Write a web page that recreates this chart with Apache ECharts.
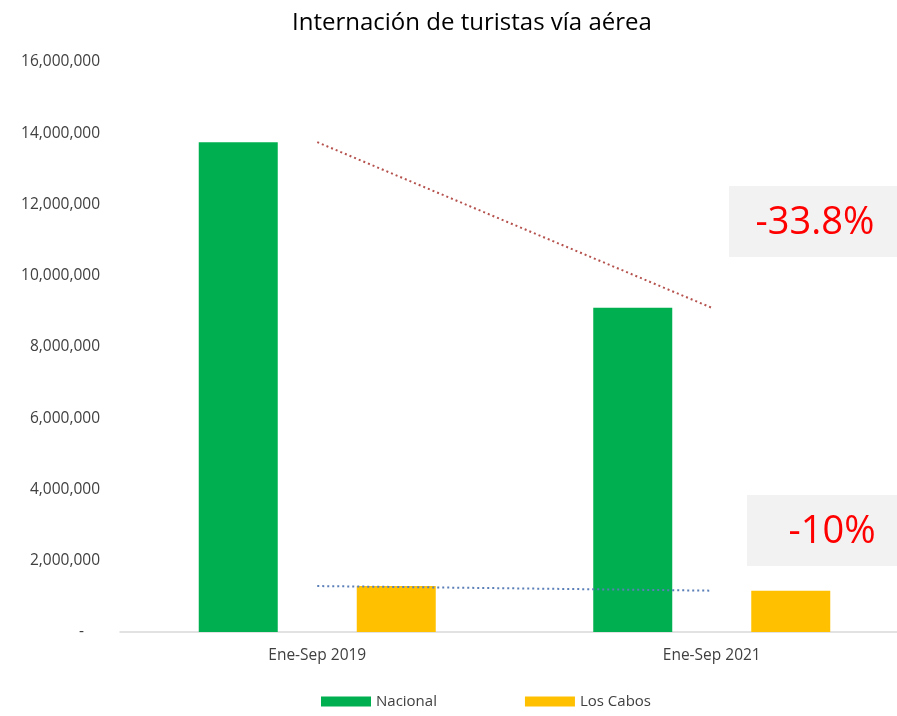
<!DOCTYPE html>
<html>
<head>
<meta charset="utf-8">
<script src="https://cdn.jsdelivr.net/npm/echarts@6/dist/echarts.min.js"></script>
<style>
  html, body { margin: 0; padding: 0; background: #fff; }
  #chart { width: 897px; height: 716px; }
</style>
</head>
<body>
<div id="chart"></div>
<script>
var categories = ['Ene-Sep 2019', 'Ene-Sep 2021'];
var nacional = [13750000, 9100000];
var losCabos = [1290000, 1160000];
var changeLabels = ['-33.8%', '-10%'];

var myChart = echarts.init(document.getElementById('chart'));

var font = '"Open Sans", "Noto Sans", sans-serif';

var option = {
    backgroundColor: '#ffffff',
    animation: false,
    title: {
        text: 'Internación de turistas vía aérea',
        left: 287,
        top: 6,
        textStyle: { fontFamily: font, fontSize: 24, fontWeight: 'normal', color: '#000' }
    },
    legend: {
        data: ['Nacional', 'Los Cabos'],
        bottom: 2,
        left: 316,
        itemWidth: 50,
        itemHeight: 10,
        itemGap: 88,
        icon: 'rect',
        textStyle: { fontFamily: font, fontSize: 15, color: '#404040' }
    },
    grid: { left: 120, top: 62, width: 789, bottom: 84, containLabel: false, outerBoundsMode: 'none' },
    xAxis: {
        type: 'category',
        data: categories,
        axisTick: { show: false },
        axisLine: { lineStyle: { color: '#d9d9d9', width: 1.5 } },
        axisLabel: { fontFamily: font, fontSize: 15.5, color: '#404040', margin: 16 }
    },
    yAxis: {
        type: 'value',
        min: 0,
        max: 16000000,
        interval: 2000000,
        splitLine: { show: false },
        axisLine: { show: false },
        axisTick: { show: false },
        axisLabel: {
            fontFamily: font, fontSize: 15.5, color: '#404040', margin: 20,
            formatter: function (v) {
                return v === 0 ? '-    ' : v.toLocaleString('en-US');
            }
        }
    },
    series: [
        {
            name: 'Nacional', type: 'bar', data: nacional,
            barWidth: 79, barGap: '100%',
            itemStyle: { color: '#00b050' }
        },
        {
            name: 'Los Cabos', type: 'bar', data: losCabos,
            barWidth: 79,
            itemStyle: { color: '#ffc000' }
        },
        {
            name: 'Tendencia Nacional', type: 'line', data: nacional,
            symbol: 'none', z: 5,
            lineStyle: { color: '#b5524e', type: [2, 3], width: 2 }
        },
        {
            name: 'Tendencia Los Cabos', type: 'line', data: losCabos,
            symbol: 'none', z: 5,
            lineStyle: { color: '#5b7fb8', type: [2, 3], width: 2 }
        }
    ],
    graphic: [
        {
            type: 'group', left: 729, top: 186,
            children: [
                { type: 'rect', shape: { x: 0, y: 0, width: 168, height: 71 }, style: { fill: '#f2f2f2' } },
                { type: 'text', x: 86, y: 37, style: { text: changeLabels[0], fill: '#ff0000', font: '38px ' + font, align: 'center', verticalAlign: 'middle' } }
            ]
        },
        {
            type: 'group', left: 747, top: 495,
            children: [
                { type: 'rect', shape: { x: 0, y: 0, width: 150, height: 71 }, style: { fill: '#f2f2f2' } },
                { type: 'text', x: 85, y: 37, style: { text: changeLabels[1], fill: '#ff0000', font: '38px ' + font, align: 'center', verticalAlign: 'middle' } }
            ]
        }
    ]
};

myChart.setOption(option);
</script>
</body>
</html>
